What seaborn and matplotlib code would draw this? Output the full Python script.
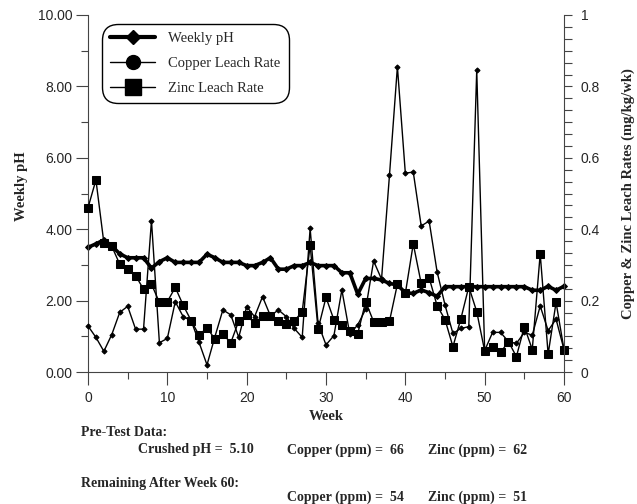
import pandas as pd
import seaborn as sns
import matplotlib.pyplot as plt
from matplotlib.lines import Line2D
from matplotlib.ticker import MultipleLocator, FuncFormatter

# weekly data
weeks = list(range(61))
ph = [3.49, 3.59, 3.70, 3.53, 3.31, 3.20, 3.20, 3.20, 2.91, 3.09,
      3.20, 3.07, 3.07, 3.07, 3.07, 3.30, 3.20, 3.07, 3.07, 3.07,
      2.98, 2.98, 3.07, 3.20, 2.88, 2.88, 2.98, 2.98, 3.07, 2.98,
      2.98, 2.98, 2.78, 2.78, 2.18, 2.62, 2.62, 2.58, 2.48, 2.44,
      2.22, 2.20, 2.30, 2.22, 2.12, 2.39, 2.39, 2.39, 2.39, 2.39,
      2.39, 2.39, 2.39, 2.39, 2.39, 2.39, 2.29, 2.29, 2.40, 2.29,
      2.40]
copper = [0.129, 0.097, 0.058, 0.105, 0.167, 0.184, 0.120, 0.120, 0.424, 0.082,
          0.094, 0.197, 0.155, 0.144, 0.083, 0.020, 0.099, 0.174, 0.160, 0.097,
          0.183, 0.155, 0.211, 0.157, 0.174, 0.155, 0.122, 0.097, 0.402, 0.136,
          0.076, 0.102, 0.230, 0.106, 0.132, 0.176, 0.311, 0.260, 0.551, 0.855,
          0.557, 0.560, 0.409, 0.423, 0.281, 0.188, 0.108, 0.122, 0.127, 0.845,
          0.060, 0.111, 0.111, 0.085, 0.080, 0.111, 0.103, 0.185, 0.116, 0.148,
          0.063]
zinc = [0.460, 0.538, 0.362, 0.352, 0.302, 0.289, 0.270, 0.232, 0.246, 0.195,
        0.197, 0.237, 0.187, 0.144, 0.103, 0.124, 0.092, 0.106, 0.082, 0.143,
        0.160, 0.136, 0.157, 0.157, 0.143, 0.134, 0.143, 0.169, 0.355, 0.120,
        0.209, 0.146, 0.132, 0.115, 0.107, 0.197, 0.141, 0.141, 0.142, 0.246,
        0.220, 0.359, 0.248, 0.264, 0.186, 0.147, 0.071, 0.149, 0.239, 0.169,
        0.059, 0.071, 0.055, 0.085, 0.043, 0.127, 0.063, 0.331, 0.050, 0.195,
        0.063]
legend_labels = ["Weekly pH", "Copper Leach Rate", "Zinc Leach Rate"]

df = pd.DataFrame({"week": weeks, "ph": ph, "copper": copper, "zinc": zinc})

sns.set_style("ticks")
plt.rcParams["font.family"] = ["Liberation Sans", "DejaVu Sans"]
SERIF = "Liberation Serif"

W, H = 637, 504
fig = plt.figure(figsize=(W / 100, H / 100), dpi=100)
ax = fig.add_axes([88 / W, 1 - 372 / H, 476 / W, 357 / H])
ax2 = ax.twinx()

# pH on left axis, leach rates on right axis
sns.lineplot(data=df, x="week", y="ph", ax=ax, color="black", lw=2.6,
             marker="D", markersize=3, markeredgecolor="black", clip_on=False, legend=False)
sns.lineplot(data=df, x="week", y="copper", ax=ax2, color="black", lw=1,
             marker="D", markersize=2.6, markeredgecolor="black", clip_on=False, legend=False)
sns.lineplot(data=df, x="week", y="zinc", ax=ax2, color="black", lw=1,
             marker="s", markersize=6, markeredgecolor="black", clip_on=False, legend=False)

ax.set_xlim(0, 60)
ax.set_ylim(0, 10)
ax2.set_ylim(0, 1)
ax.xaxis.set_major_locator(MultipleLocator(10))
ax.xaxis.set_minor_locator(MultipleLocator(5))
ax.yaxis.set_major_locator(MultipleLocator(2))
ax.yaxis.set_minor_locator(MultipleLocator(1))
ax.yaxis.set_major_formatter(FuncFormatter(lambda v, p: f"{v:.2f}"))
ax2.yaxis.set_major_locator(MultipleLocator(0.2))
ax2.yaxis.set_minor_locator(MultipleLocator(0.2 / 6))
ax2.yaxis.set_major_formatter(FuncFormatter(lambda v, p: f"{v:g}"))

tc = "#444444"
ax.tick_params(axis="y", which="major", length=9, width=0.8, labelsize=10, pad=2, color=tc)
ax.tick_params(axis="y", which="minor", length=5, width=0.8, color=tc)
ax.tick_params(axis="x", which="major", length=9, width=0.8, labelsize=10, pad=5, color=tc)
ax.tick_params(axis="x", which="minor", length=5, width=0.8, color=tc)
ax2.tick_params(axis="y", which="major", length=6, width=0.8, labelsize=10, pad=6, color=tc)
ax2.tick_params(axis="y", which="minor", length=6, width=0.8, color=tc)

for s in ["top", "right"]:
    ax.spines[s].set_visible(False)
for s in ["top", "left", "bottom"]:
    ax2.spines[s].set_visible(False)
for a, s in [(ax, "left"), (ax, "bottom"), (ax2, "right")]:
    a.spines[s].set_linewidth(0.8)
    a.spines[s].set_color(tc)

lab = dict(family=SERIF, weight="bold", size=10.5)
ax.set_xlabel("Week", **lab)
ax.xaxis.set_label_coords(0.5, -0.126)
ax.xaxis.label.set_va("center")
ax.set_ylabel("Weekly pH", **lab)
ax.yaxis.set_label_coords(-0.139, 0.52)
ax.yaxis.label.set_va("center")
ax2.set_ylabel("Copper & Zinc Leach Rates (mg/kg/wk)", rotation=90, **lab)
ax2.yaxis.set_label_coords(1.136, 0.5)
ax2.yaxis.label.set_va("center")

handles = [
    Line2D([], [], color="black", lw=3, marker="D", markersize=7.5),
    Line2D([], [], color="black", lw=1, marker="o", markersize=10),
    Line2D([], [], color="black", lw=1, marker="s", markersize=12),
]
leg = ax2.legend(handles, legend_labels, loc="upper left",
                 bbox_to_anchor=(102 / W, 1 - 24 / H), bbox_transform=fig.transFigure,
                 prop={"family": SERIF, "size": 10.5}, frameon=True, fancybox=True,
                 edgecolor="black", framealpha=1, handlelength=3.1, handletextpad=0.9,
                 labelspacing=0.8, borderpad=0.55, borderaxespad=0)
leg.get_frame().set_linewidth(1.0)
leg.get_frame().set_boxstyle("round,pad=0,rounding_size=1.1")

# notes under the chart
note = dict(family=SERIF, weight="bold", size=10, va="center", ha="left")
fig.text(81 / W, 1 - 432 / H, "Pre-Test Data:", **note)
fig.text(138 / W, 1 - 450 / H, "Crushed pH =  5.10", **note)
fig.text(287 / W, 1 - 450 / H, "Copper (ppm) =  66", **note)
fig.text(428 / W, 1 - 450 / H, "Zinc (ppm) =  62", **note)
fig.text(81 / W, 1 - 483 / H, "Remaining After Week 60:", **note)
fig.text(287 / W, 1 - 497 / H, "Copper (ppm) =  54", **note)
fig.text(428 / W, 1 - 497 / H, "Zinc (ppm) =  51", **note)

fig.savefig("out.png", dpi=100)
